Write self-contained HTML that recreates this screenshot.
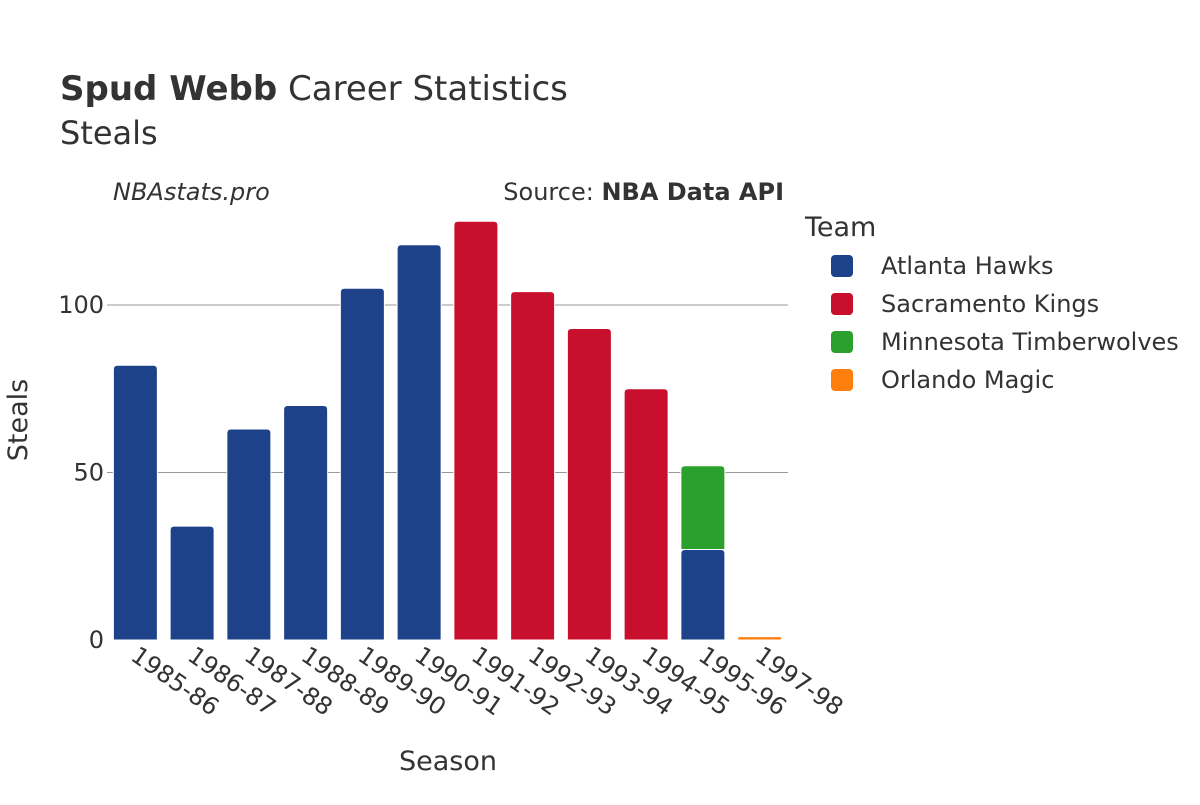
<!DOCTYPE html>
<html><head><meta charset="utf-8"><style>
html,body{margin:0;padding:0;background:#fff;}
svg text{font-family:"DejaVu Sans","Liberation Sans",sans-serif;}
</style></head><body>
<svg id="chart" width="1200" height="800" xmlns="http://www.w3.org/2000/svg">
<text x="60" y="100" font-size="34" fill="#333"><tspan font-weight="bold">Spud Webb</tspan> Career Statistics</text>
<text x="60" y="144" font-size="32" fill="#333">Steals</text>
<text x="113" y="200" font-size="24" font-style="italic" fill="#333">NBAstats.pro</text>
<text x="784" y="200" font-size="24" fill="#333" text-anchor="end">Source: <tspan font-weight="bold">NBA Data API</tspan></text>
<g id="grid"></g>
<g id="bars"></g>
<g id="xticks"></g>
<text x="448" y="770" font-size="27" fill="#333" text-anchor="middle">Season</text>
<text transform="translate(27,420) rotate(-90)" font-size="27" fill="#333" text-anchor="middle">Steals</text>
<text x="805" y="236" font-size="27" fill="#333">Team</text>
<g id="legend"></g>
</svg>
<script>
const seasons=["1985-86","1986-87","1987-88","1988-89","1989-90","1990-91","1991-92","1992-93","1993-94","1994-95","1995-96","1997-98"];
const teams=["Atlanta Hawks","Sacramento Kings","Minnesota Timberwolves","Orlando Magic"];
const colors=["#1d428a","#c8102e","#2ca02c","#ff7f0e"];
const atlanta=[82,34,63,70,105,118,0,0,0,0,27,0];
const sacramento=[0,0,0,0,0,0,125,104,93,75,0,0];
const minnesota=[0,0,0,0,0,0,0,0,0,0,25,0];
const orlando=[0,0,0,0,0,0,0,0,0,0,0,1];
const yTicks=[0,50,100];
const series=[atlanta,sacramento,minnesota,orlando];
const NS="http://www.w3.org/2000/svg";
const x0=107,x1=788,y0=640,pxPer=3.35;
const band=(x1-x0)/seasons.length,bw=44;
const yS=v=>y0-v*pxPer;
const xS=i=>x0+band*i+band/2;
function mk(t,a,p){const e=document.createElementNS(NS,t);for(const k in a)e.setAttribute(k,a[k]);p.appendChild(e);return e;}
const grid=document.getElementById('grid');
yTicks.forEach(v=>{
  if(v>0){const l=mk('line',{x1:x0,x2:x1,y1:yS(v),y2:yS(v),stroke:'#999','stroke-width':1},grid);
  
  }
  const t=mk('text',{x:104,y:yS(v)+8,'font-size':24,fill:'#333','text-anchor':'end'},grid);
  t.textContent=v;
  
  
});
const bars=document.getElementById('bars');
seasons.forEach((s,i)=>{
  let base=0;
  series.forEach((ser,k)=>{
    const v=ser[i]; if(!v)return;
    const top=yS(base+v),bot=yS(base),xl=xS(i)-bw/2,r=Math.min(4,(bot-top)/2);
    const d=`M${xl},${bot} L${xl},${top+r} Q${xl},${top} ${xl+r},${top} L${xl+bw-r},${top} Q${xl+bw},${top} ${xl+bw},${top+r} L${xl+bw},${bot} Z`;
    const p=mk('path',{d:d,fill:colors[k],stroke:'#fff','stroke-width':1},bars);
    
    
    base+=v;
  });
  const t=mk('text',{transform:`translate(${xS(i)-6},${659}) rotate(35)`,'font-size':24,fill:'#333'},document.getElementById('xticks'));
  t.textContent=s;
  
  
});
const lg=document.getElementById('legend');
teams.forEach((tm,k)=>{
  const y=266+k*38;
  const g=mk('g',{},lg);
  
  
  mk('rect',{x:831,y:y-11,width:22,height:22,rx:4,fill:colors[k]},g);
  const t=mk('text',{x:881,y:y+8,'font-size':24,fill:'#333'},g);
  t.textContent=tm;
});
</script>
</body></html>
